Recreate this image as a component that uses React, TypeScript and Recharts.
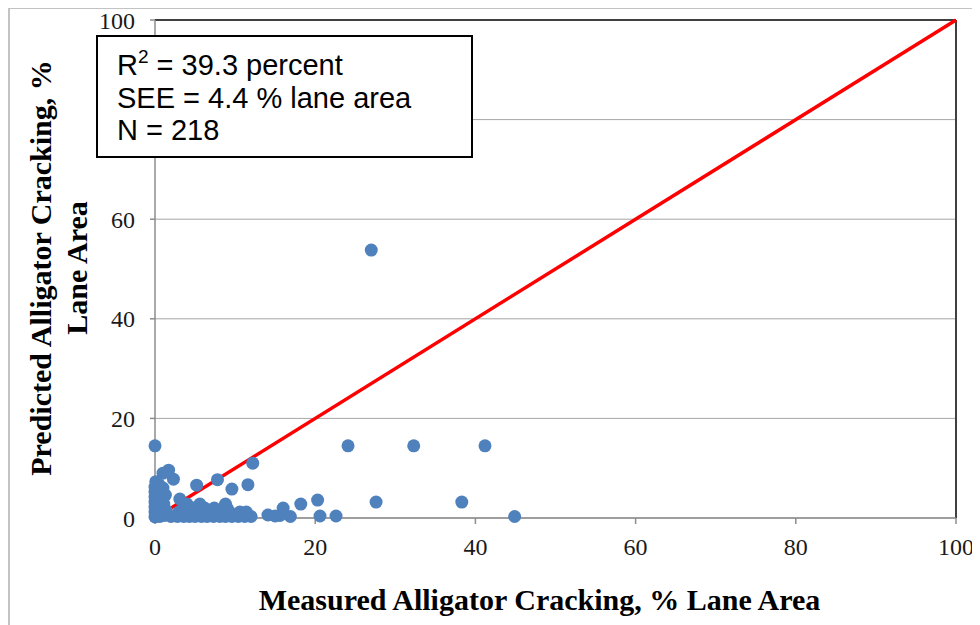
import React from 'react';
import { ScatterChart, Scatter, XAxis, YAxis, CartesianGrid, ReferenceLine } from 'recharts';

// Measured alligator cracking (% lane area) and predicted values
const measured: number[] = [
  0, 27.0, 24.1, 32.3, 41.2, 27.6, 38.3, 44.9, 20.3, 20.6, 22.6, 18.2, 16.0, 16.9, 15.6, 15.0, 14.1,
  12.2, 11.6, 9.6, 7.8, 5.2, 3.1, 2.3, 1.7, 1.0, 0.1,
  0, 0.2, 0, 0.3, 0, 0.2, 0, 0.3, 0, 0.2, 0, 0.3, 0, 0.5, 0.6, 0.7, 0.8, 0.6, 0.7, 0.5, 1.2, 1.4, 1.1, 1.3, 1.0,
  2.0, 2.8, 3.6, 4.3, 5.0, 5.8, 6.5, 7.3, 8.1, 8.8, 9.6, 10.4, 11.2, 12.0,
  3.0, 4.2, 5.5, 6.8, 8.0, 9.3, 10.6, 11.4,
  3.6, 4.8, 6.2, 7.4, 9.0,
  4.0, 5.6, 8.8,
];
const predicted: number[] = [
  14.5, 53.8, 14.5, 14.5, 14.5, 3.2, 3.2, 0.3, 3.6, 0.4, 0.4, 2.8, 2.0, 0.3, 0.5, 0.4, 0.6,
  11.0, 6.7, 5.8, 7.7, 6.6, 3.8, 7.8, 9.6, 9.0, 7.3,
  0.2, 0.7, 1.2, 1.7, 2.2, 2.7, 3.2, 3.7, 4.2, 4.7, 5.2, 5.7, 6.2, 6.7, 0.3, 1.2, 2.2, 3.2, 4.3, 5.3, 0.5, 1.5, 2.8, 4.6, 6.0,
  0.3, 0.3, 0.3, 0.3, 0.3, 0.3, 0.3, 0.3, 0.3, 0.3, 0.3, 0.3, 0.3, 0.3,
  1.2, 1.2, 1.2, 1.2, 1.2, 1.2, 1.2, 1.2,
  2.0, 2.0, 2.0, 2.0, 2.0,
  2.8, 2.8, 2.8,
];
const equalityX: number[] = [0, 100];
const equalityY: number[] = [0, 100];
const xTicks: number[] = [0, 20, 40, 60, 80, 100];
const yTicks: number[] = [0, 20, 40, 60, 80, 100];
const hiddenYLabels: number[] = [80]; // covered by the statistics box in the reference
const statLines: string[] = ['SEE = 4.4 % lane area', 'N = 218'];
const xTitle = 'Measured Alligator Cracking, % Lane Area';
const yTitle1 = 'Predicted Alligator Cracking, %';
const yTitle2 = 'Lane Area';

const points = measured.map((x, i) => ({ x, y: predicted[i] }));
const lineData = equalityX.map((x, i) => ({ x, y: equalityY[i] }));

const serif = '"Liberation Serif", "Times New Roman", serif';
const tickStyle = { fontFamily: serif, fontSize: 24, fill: '#1a1a1a' };

const Dot = (props: any) => <circle cx={props.cx} cy={props.cy} r={6.5} fill="#4F81BD" />;

const YTick = (props: any) => {
  const v = props.payload?.value;
  if (hiddenYLabels.includes(v)) return <g />;
  return (
    <text
      x={props.x}
      y={props.y}
      dy="0.355em"
      textAnchor="end"
      fontFamily={serif}
      fontSize={24}
      fill="#1a1a1a"
    >
      {v}
    </text>
  );
};

export default function App() {
  return (
    <div
      style={{
        marginTop: -1,
        width: 972,
        height: 618,
        borderTop: '2px solid #c3c3c3',
        borderLeft: '2px solid #c3c3c3',
        position: 'relative',
        boxSizing: 'border-box',
        background: '#fff',
      }}
    >
      <ScatterChart width={970} height={616} margin={{ top: 11, right: 24, bottom: 67, left: 95 }}>
        <CartesianGrid horizontal vertical={false} stroke="#a6a6a6" strokeWidth={1} />
        <XAxis
          type="number"
          dataKey="x"
          domain={[0, 100]}
          ticks={xTicks}
          height={40}
          tick={tickStyle}
          tickSize={6}
          tickMargin={14}
          axisLine={{ stroke: '#8c8c8c', strokeWidth: 1.5 }}
          tickLine={{ stroke: '#8c8c8c', strokeWidth: 1.5 }}
          label={{
            content: (p: any) => {
              const vb = p.viewBox || { x: 145, y: 509, width: 801 };
              return (
                <text
                  x={vb.x + vb.width / 2 - 16}
                  y={vb.y + 92}
                  textAnchor="middle"
                  fontFamily={serif}
                  fontWeight="bold"
                  fontSize={30}
                  fill="#000"
                >
                  {xTitle}
                </text>
              );
            },
          }}
        />
        <YAxis
          type="number"
          dataKey="y"
          domain={[0, 100]}
          ticks={yTicks}
          width={50}
          tick={YTick}
          tickSize={5}
          tickMargin={15}
          axisLine={{ stroke: '#8c8c8c', strokeWidth: 1.5 }}
          tickLine={{ stroke: '#8c8c8c', strokeWidth: 1.5 }}
          label={{
            content: (p: any) => {
              const vb = p.viewBox || { x: 95, y: 11, height: 498 };
              const cy = vb.y + vb.height / 2 - 1;
              const x1 = 41;
              const x2 = 77;
              return (
                <g>
                  <text
                    x={x1}
                    y={cy}
                    transform={`rotate(-90, ${x1}, ${cy})`}
                    textAnchor="middle"
                    fontFamily={serif}
                    fontWeight="bold"
                    fontSize={30}
                    fill="#000"
                  >
                    {yTitle1}
                  </text>
                  <text
                    x={x2}
                    y={cy}
                    transform={`rotate(-90, ${x2}, ${cy})`}
                    textAnchor="middle"
                    fontFamily={serif}
                    fontWeight="bold"
                    fontSize={30}
                    fill="#000"
                  >
                    {yTitle2}
                  </text>
                </g>
              );
            },
          }}
        />
        <ReferenceLine y={100} stroke="#404040" strokeWidth={2} />
        <ReferenceLine x={100} stroke="#404040" strokeWidth={2} />
        <Scatter
          data={lineData}
          line={{ stroke: '#ff0000', strokeWidth: 3.5 }}
          shape={() => <g />}
          legendType="none"
          isAnimationActive={false}
        />
        <Scatter data={points} shape={Dot} isAnimationActive={false} />
      </ScatterChart>
      <div
        style={{
          position: 'absolute',
          left: 86,
          top: 26,
          width: 377,
          height: 123,
          border: '2px solid #000',
          background: '#fff',
          boxSizing: 'border-box',
          paddingLeft: 19,
          paddingTop: 12,
          fontFamily: '"Liberation Sans", Arial, sans-serif',
          fontSize: 29,
          lineHeight: '32.5px',
          color: '#000',
        }}
      >
        <div>
          R<span style={{ fontSize: 19, position: 'relative', top: -12, lineHeight: 0 }}>2</span> = 39.3 percent
        </div>
        {statLines.map((s) => (
          <div key={s}>{s}</div>
        ))}
      </div>
    </div>
  );
}
